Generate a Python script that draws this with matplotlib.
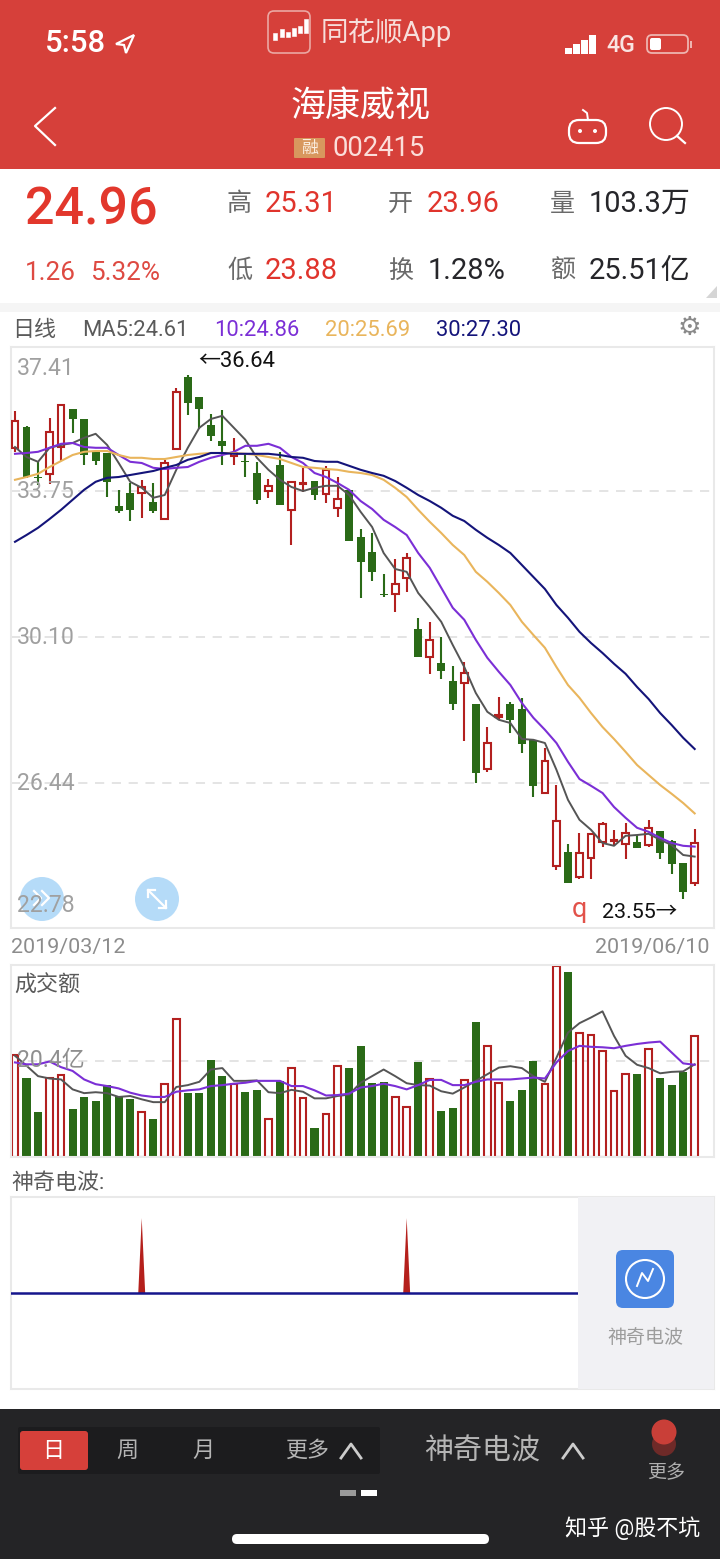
import matplotlib
matplotlib.use("Agg")
import matplotlib.pyplot as plt
from matplotlib.patches import Circle, FancyBboxPatch, Polygon, Rectangle
import numpy as np

FONT = ['Roboto', 'Noto Sans CJK SC', 'DejaVu Sans']
plt.rcParams['font.family'] = FONT

W, H = 720, 1559

# daily prices
highs = [35.75, 35.37, 34.48, 35.58, 35.90, 35.80, 35.55, 34.75, 34.70, 33.78,
         33.95, 34.03, 33.95, 34.53, 36.33, 36.64, 36.10, 35.68, 35.78, 35.08,
         34.70, 34.48, 34.05, 34.73, 33.98, 34.33, 34.00, 34.38, 34.10, 33.78,
         32.80, 32.70, 31.68, 32.05, 32.20, 30.58, 30.48, 30.10, 29.38, 29.48,
         28.43, 27.85, 28.60, 28.48, 28.58, 27.53, 27.33, 26.40, 24.93, 25.20,
         25.18, 25.48, 25.28, 25.45, 25.15, 25.53, 25.25, 25.03, 24.45, 25.31]
lows = [34.73, 34.08, 33.90, 33.93, 34.50, 35.20, 34.40, 34.40, 33.60, 33.20,
        33.00, 33.08, 33.20, 33.05, 34.80, 35.65, 35.30, 35.00, 34.40, 34.40,
        34.10, 33.43, 33.58, 33.40, 32.40, 33.73, 33.53, 33.45, 33.10, 32.50,
        31.08, 31.50, 31.10, 30.73, 31.23, 29.60, 29.18, 29.05, 28.28, 27.50,
        26.45, 26.73, 28.03, 27.70, 27.20, 26.10, 26.20, 24.28, 23.95, 24.05,
        24.05, 24.85, 24.88, 24.55, 24.83, 24.85, 24.55, 24.18, 23.55, 23.88]
opens = [34.83, 35.36, 34.10, 34.18, 34.85, 35.80, 35.55, 34.73, 34.70, 33.38,
         33.70, 33.70, 33.48, 33.05, 34.80, 36.60, 36.10, 35.40, 35.00, 34.63,
         34.50, 34.20, 33.75, 34.40, 33.28, 33.93, 34.00, 33.68, 33.33, 33.78,
         32.60, 32.23, 31.18, 31.18, 31.58, 30.30, 29.60, 29.45, 29.00, 28.95,
         28.43, 26.80, 28.10, 28.43, 28.30, 27.53, 26.20, 24.38, 24.73, 24.10,
         24.58, 24.98, 25.00, 24.93, 24.98, 24.90, 25.25, 25.00, 24.45, 23.96]
closes = [35.50, 34.10, 34.08, 35.23, 35.90, 35.55, 34.65, 34.50, 33.98, 33.25,
          33.28, 33.85, 33.25, 34.45, 36.23, 35.95, 35.80, 35.13, 34.88, 34.70,
          34.48, 33.53, 33.88, 33.40, 33.98, 33.95, 33.65, 34.28, 33.55, 32.50,
          31.98, 31.73, 31.15, 31.43, 32.08, 29.60, 30.03, 29.25, 28.43, 29.20,
          26.70, 27.45, 28.15, 28.03, 27.43, 26.38, 27.00, 25.50, 23.95, 24.70,
          25.18, 25.43, 25.03, 25.20, 24.83, 25.33, 24.70, 24.43, 23.73, 24.96]

ma5 = [34.85, 34.60, 34.48, 34.83, 34.90, 34.95, 35.08, 35.18, 34.90, 34.45,
       33.98, 33.83, 33.58, 33.65, 34.28, 34.83, 35.33, 35.55, 35.63, 35.33,
       35.03, 34.58, 34.28, 34.03, 33.85, 33.75, 33.83, 33.88, 33.88, 33.65,
       33.23, 32.85, 32.20, 31.80, 31.73, 31.20, 30.85, 30.48, 29.90, 29.35,
       28.70, 28.23, 28.03, 27.95, 27.55, 27.53, 27.45, 26.78, 26.03, 25.53,
       25.28, 24.95, 24.88, 25.13, 25.15, 25.18, 25.03, 24.90, 24.65, 24.61]
ma10 = [34.68, 34.70, 34.73, 34.83, 34.93, 34.95, 34.85, 34.83, 34.83, 34.65,
        34.48, 34.45, 34.33, 34.30, 34.33, 34.35, 34.48, 34.58, 34.65, 34.73,
        34.88, 34.88, 34.93, 34.83, 34.60, 34.45, 34.20, 34.10, 33.95, 33.78,
        33.50, 33.30, 33.03, 32.85, 32.65, 32.20, 31.83, 31.33, 30.83, 30.53,
        30.03, 29.58, 29.23, 28.90, 28.45, 28.08, 27.78, 27.45, 26.98, 26.55,
        26.38, 26.20, 25.85, 25.58, 25.33, 25.23, 25.08, 24.95, 24.88, 24.86]
ma20 = [34.03, 34.10, 34.18, 34.35, 34.50, 34.65, 34.73, 34.75, 34.75, 34.65,
        34.58, 34.58, 34.55, 34.55, 34.60, 34.65, 34.68, 34.70, 34.70, 34.70,
        34.68, 34.65, 34.60, 34.55, 34.45, 34.35, 34.33, 34.30, 34.28, 34.23,
        34.20, 34.15, 34.03, 33.83, 33.60, 33.28, 32.98, 32.70, 32.40, 32.15,
        31.73, 31.48, 31.20, 30.90, 30.48, 30.15, 29.83, 29.35, 28.90, 28.58,
        28.20, 27.85, 27.55, 27.23, 26.90, 26.65, 26.40, 26.18, 25.95, 25.69]
ma30 = [32.48, 32.65, 32.83, 33.05, 33.28, 33.53, 33.78, 33.98, 34.08, 34.10,
        34.15, 34.20, 34.25, 34.33, 34.40, 34.53, 34.60, 34.70, 34.70, 34.68,
        34.68, 34.68, 34.68, 34.65, 34.60, 34.58, 34.50, 34.48, 34.48, 34.38,
        34.28, 34.20, 34.13, 34.00, 33.83, 33.65, 33.50, 33.33, 33.13, 33.00,
        32.78, 32.58, 32.40, 32.20, 31.90, 31.60, 31.30, 30.90, 30.58, 30.23,
        29.95, 29.70, 29.43, 29.18, 28.85, 28.55, 28.20, 27.90, 27.58, 27.30]

# turnover in 亿
turnover = [21.6, 16.8, 9.5, 16.8, 17.3, 10.1, 12.7, 11.8, 15.2, 12.9,
            12.2, 9.6, 8.1, 15.4, 29.2, 13.5, 13.5, 20.6, 17.1, 15.4,
            13.8, 14.1, 8.1, 16.1, 18.8, 12.4, 6.2, 9.0, 19.2, 18.8,
            23.5, 15.7, 15.9, 12.7, 10.6, 20.1, 16.4, 9.7, 10.4, 16.2,
            28.5, 23.5, 15.7, 11.8, 14.2, 20.3, 15.5, 40.3, 39.1, 26.3,
            25.8, 22.4, 13.9, 17.6, 17.6, 22.9, 16.6, 15.2, 18.0, 25.51]
turnover_ma5 = [21.4, 19.3, 17.1, 16.6, 16.4, 14.3, 13.5, 13.7, 13.5, 12.7,
                12.9, 12.2, 11.6, 11.6, 14.8, 15.2, 15.9, 18.5, 18.8, 16.1,
                16.1, 16.2, 13.7, 13.5, 14.2, 13.8, 12.4, 12.4, 12.9, 13.2,
                15.7, 17.1, 18.5, 17.1, 15.6, 15.2, 15.1, 13.9, 13.4, 14.7,
                16.1, 17.5, 18.9, 19.2, 18.8, 17.1, 15.9, 21.0, 26.3, 28.3,
                29.5, 30.8, 25.6, 21.4, 19.5, 18.8, 17.7, 18.0, 18.1, 19.6]
turnover_ma10 = [20.0, 19.6, 19.6, 20.2, 19.0, 18.2, 16.4, 15.4, 15.0, 14.5,
                 13.6, 13.0, 12.7, 12.7, 13.8, 14.1, 14.3, 15.0, 15.2, 15.5,
                 15.7, 16.1, 16.1, 16.1, 15.0, 15.0, 14.1, 13.0, 13.1, 13.4,
                 14.7, 15.0, 15.5, 15.0, 14.3, 15.2, 16.3, 16.3, 15.2, 15.2,
                 15.9, 16.4, 16.4, 16.4, 16.6, 16.8, 16.6, 20.0, 22.4, 23.5,
                 23.3, 23.2, 23.0, 23.5, 23.9, 24.2, 24.4, 22.1, 19.8, 19.5]

wave_days = [11, 34]
wave_peaks = [0.78, 0.78]

price_grid = [33.75, 30.10, 26.44]
turnover_grid = [20.4]

RED = '#d6403a'
UP = '#b3201f'
DOWN = '#2a6a17'
PURPLE = '#7b2fd6'
GOLD = '#e9b55c'
NAVY = '#14147a'
GREY = '#5a5a5a'
BOX = '#e9e9e9'

fig = plt.figure(figsize=(W / 100, H / 100), dpi=100, facecolor='white')


def px_axes(x0, y0, x1, y1, z):
    ax = fig.add_axes([x0 / W, 1 - y1 / H, (x1 - x0) / W, (y1 - y0) / H], zorder=z)
    return ax


def chart_axes(y0, y1):
    ax = px_axes(11, y0, 714, y1, 2)
    ax.set_xlim((11 - 15) / 11.52, (714 - 15) / 11.52)
    ax.set_xticks([])
    ax.set_yticks([])
    for s in ax.spines.values():
        s.set_color(BOX)
        s.set_linewidth(1.5)
    return ax


bg = px_axes(0, 0, W, H, 0)
bg.set_xlim(0, W)
bg.set_ylim(H, 0)
bg.axis('off')
top = px_axes(0, 0, W, H, 5)
top.set_xlim(0, W)
top.set_ylim(H, 0)
top.axis('off')
top.patch.set_alpha(0)


def txt(x, y, s, size, color, ha='left', ax=top, weight='normal'):
    # Roboto sits a little high with va=center
    ax.text(x, y + 1.5, s, fontsize=size * 0.72, color=color, ha=ha, va='center', fontweight=weight)


def rbox(ax, x0, y0, x1, y1, r, **kw):
    ax.add_patch(FancyBboxPatch((x0 + r, y0 + r), x1 - x0 - 2 * r, y1 - y0 - 2 * r,
                                boxstyle=f'round,pad={r},rounding_size={r}', **kw))


# header
bg.add_patch(Rectangle((0, 0), W, 169, color=RED, lw=0))
bg.add_patch(Rectangle((0, 303), W, 9, color='#f5f5f5', lw=0))
bg.add_patch(Polygon([(717, 286), (717, 298), (706, 298)], color='#d5d5d5', lw=0))
txt(45, 42, '5:58', 31, 'white', weight='medium')
top.add_patch(Polygon([(134, 35), (116, 44), (124, 45), (126, 53)], fc='none', ec='white', lw=1.6))
rbox(top, 268, 11, 310, 53, 6, fc=RED, ec='#eba8a3', lw=1.2)
for lx, ly0, ly1 in [(273, 33, 40), (280, 29, 37), (286, 32, 37), (292, 28, 36), (298, 26, 33), (304, 19, 33)]:
    top.add_patch(Rectangle((lx, ly0), 3.5, ly1 - ly0, fc='white', ec='white', lw=0.4))
txt(321, 31, '同花顺App', 27.5, '#f7dedb')
for sx, sy in [(565, 48), (573, 44), (581, 40), (589, 35)]:
    top.add_patch(Rectangle((sx, sy), 6.5, 54 - sy, color='white', lw=0))
txt(606, 44, '4G', 23, '#f9e4e2', weight='medium')
rbox(top, 647, 35, 688, 53, 5, fc='none', ec='#eeb5b0', lw=1.3)
rbox(top, 650, 38, 661, 50, 2, fc='white', ec='none')
top.add_patch(Rectangle((690, 41), 2, 7, color='#eeb5b0', lw=0))
txt(360, 105, '海康威视', 35, 'white', ha='center')
rbox(top, 294, 138, 325, 158, 1, fc='#d8975e', ec='none')
txt(309.5, 147, '融', 17, '#fbeee0', ha='center')
txt(332, 147, '002415', 27.5, '#fbdeda')
top.plot([55, 35, 55], [108, 126, 145], color='white', lw=1.6)
rbox(top, 569, 120, 606, 143, 10, fc='none', ec='white', lw=1.6)
top.plot([588, 587, 583], [120, 113, 110], color='white', lw=1.4)
top.add_patch(Circle((580, 131), 2, color='white', lw=0))
top.add_patch(Circle((595, 131), 2, color='white', lw=0))
top.add_patch(Circle((666, 124), 16, fc='none', ec='white', lw=1.4))
top.plot([677, 685], [136, 143], color='white', lw=1.6)

# quote block
txt(25, 209, '24.96', 52, '#e2372c', weight='medium')
txt(25, 271, '1.26', 26, '#de4a42')
txt(90, 271, '5.32%', 26, '#de4a42')
num_red = '#e0342c'
num_blk = '#26262a'
for x, y, s in [(227, 202, '高'), (388, 202, '开'), (550, 202, '量'), (227, 269, '低'), (388, 269, '换'), (550, 269, '额')]:
    txt(x, y, s, 25, '#6a6a6a')
txt(265, 202, '25.31', 29, num_red)
txt(427, 202, '23.96', 29, num_red)
txt(589, 202, '103.3万', 29, num_blk)
txt(265, 269, '23.88', 29, num_red)
txt(428, 269, '1.28%', 29, num_blk)
txt(589, 269, '25.51亿', 29, num_blk)

# MA legend
txt(12, 329, '日线', 22, GREY)
txt(82, 329, 'MA5:24.61', 22, GREY)
txt(214, 329, '10:24.86', 22, PURPLE)
txt(325, 329, '20:25.69', 22, GOLD)
txt(436, 329, '30:27.30', 22, NAVY)
top.text(689, 328, '\u2699', fontsize=19, color='#8a8a8a', ha='center', va='center', family='DejaVu Sans')

# price chart
x = np.arange(len(closes))
o = np.array(opens)
c = np.array(closes)
is_up = c >= o
ax1 = chart_axes(347, 928)
ax1.set_ylim(22.825, 37.35)
for level in price_grid:
    ax1.axhline(level, color='#dcdcdc', lw=1.1, ls=(0, (6, 5)), zorder=1)
for i in x:
    col = UP if is_up[i] else DOWN
    ax1.vlines(i, lows[i], highs[i], color=col, lw=1.5, zorder=2)
body_low = np.minimum(o, c)
body_h = np.maximum(np.abs(c - o), 0.03)
ax1.bar(x[~is_up], body_h[~is_up], bottom=body_low[~is_up], width=0.68, color=DOWN, lw=0, zorder=3)
ax1.bar(x[is_up], body_h[is_up], bottom=body_low[is_up], width=0.58, facecolor='white',
        edgecolor=UP, lw=1.5, zorder=3)
ax1.plot(x, ma5, color='#555555', lw=1.4, zorder=4)
ax1.plot(x, ma10, color=PURPLE, lw=1.5, zorder=4)
ax1.plot(x, ma20, color=GOLD, lw=1.5, zorder=4)
ax1.plot(x, ma30, color=NAVY, lw=1.5, zorder=4)

axis_grey = '#a0a0a0'
txt(17, 367, '37.41', 23, axis_grey)
txt(17, 490, '33.75', 23, axis_grey)
txt(17, 636, '30.10', 23, axis_grey)
txt(17, 782, '26.44', 23, axis_grey)
txt(17, 904, '22.78', 23, axis_grey)
txt(198, 360, '←36.64', 22, '#111111')
txt(602, 911, '23.55→', 21.5, '#111111')
txt(572, 908, 'q', 27, '#e2524a')
top.add_patch(Circle((42, 899), 22, color='#b5dbf8', lw=0))
top.add_patch(Circle((157, 899), 22, color='#b5dbf8', lw=0))
top.plot([34, 41, 34], [891, 898, 905], color='white', lw=1.6)
top.plot([42, 49, 42], [891, 898, 905], color='white', lw=1.6)
top.plot([148, 166], [890, 908], color='white', lw=1.6)
top.plot([148, 148, 155], [897, 890, 890], color='white', lw=1.6)
top.plot([166, 166, 159], [901, 908, 908], color='white', lw=1.6)
txt(11, 946, '2019/03/12', 21.5, '#8c8c8c')
txt(709, 946, '2019/06/10', 21.5, '#8c8c8c', ha='right')

# turnover chart
ax2 = chart_axes(965, 1157)
ax2.set_ylim(0, 40.6)
for level in turnover_grid:
    ax2.axhline(level, color='#dcdcdc', lw=1.1, ls=(0, (6, 5)), zorder=1)
t = np.array(turnover)
ax2.bar(x[~is_up], t[~is_up], width=0.7, color=DOWN, lw=0, zorder=2)
ax2.bar(x[is_up], t[is_up], width=0.58, facecolor='white', edgecolor=UP, lw=1.5, zorder=2)
ax2.plot(x, turnover_ma5, color='#555555', lw=1.4, zorder=3)
ax2.plot(x, turnover_ma10, color=PURPLE, lw=1.5, zorder=3)
txt(14, 985, '成交额', 22, GREY)
txt(17, 1059, '20.4亿', 23, '#8f8f8f')

# wave chart
txt(11, 1182, '神奇电波:', 22, GREY)
ax3 = chart_axes(1197, 1389)
ax3.set_ylim(-1, 1)
for day, peak in zip(wave_days, wave_peaks):
    ax3.fill([day - 0.3, day, day + 0.3], [0, peak, 0], color='#b5201c', lw=0, zorder=2)
ax3.axhline(0, color='#15158c', lw=1.8, zorder=3)
top.add_patch(Rectangle((578, 1197), 136, 192, color='#f1f1f4', lw=0))
rbox(top, 616, 1250, 674, 1308, 7, fc='#4a86e2', ec='none')
top.add_patch(Circle((645, 1279), 19, fc='none', ec='white', lw=1.5))
top.plot([637, 642, 648, 653], [1286, 1273, 1281, 1269], color='white', lw=1.4)
txt(645, 1336, '神奇电波', 19, '#9c9c9c', ha='center')

# bottom toolbar
bg.add_patch(Rectangle((0, 1409), W, H - 1409, color='#242426', lw=0))
rbox(top, 18, 1427, 380, 1474, 2, fc='#1c1c1e', ec='none')
rbox(top, 20, 1431, 88, 1470, 3, fc=RED, ec='none')
txt(53, 1450, '日', 22, 'white', ha='center')
txt(127, 1450, '周', 22, '#b5b5b5', ha='center')
txt(203, 1450, '月', 22, '#b5b5b5', ha='center')
txt(307, 1450, '更多', 22, '#b5b5b5', ha='center')
top.plot([341, 351, 361], [1458, 1444, 1458], color='#cccccc', lw=2)
txt(424, 1450, '神奇电波', 29, '#b5b5b5')
top.plot([563, 573, 583], [1458, 1444, 1458], color='#cccccc', lw=2)
top.add_patch(Circle((664, 1444), 12, color='#6e2a28', lw=0))
top.add_patch(Circle((664, 1432), 12.5, color='#c93f38', lw=0))
txt(666, 1472, '更多', 19, '#b0b0b0', ha='center')
top.add_patch(Rectangle((340, 1490), 16, 6, color='#9a9a9a', lw=0))
top.add_patch(Rectangle((361, 1490), 16, 6, color='white', lw=0))
rbox(top, 232, 1534, 489, 1544, 5, fc='white', ec='none')
txt(565, 1527, '知乎 @股不坑', 22, 'white')

fig.savefig('out.png', dpi=100, facecolor='white')
